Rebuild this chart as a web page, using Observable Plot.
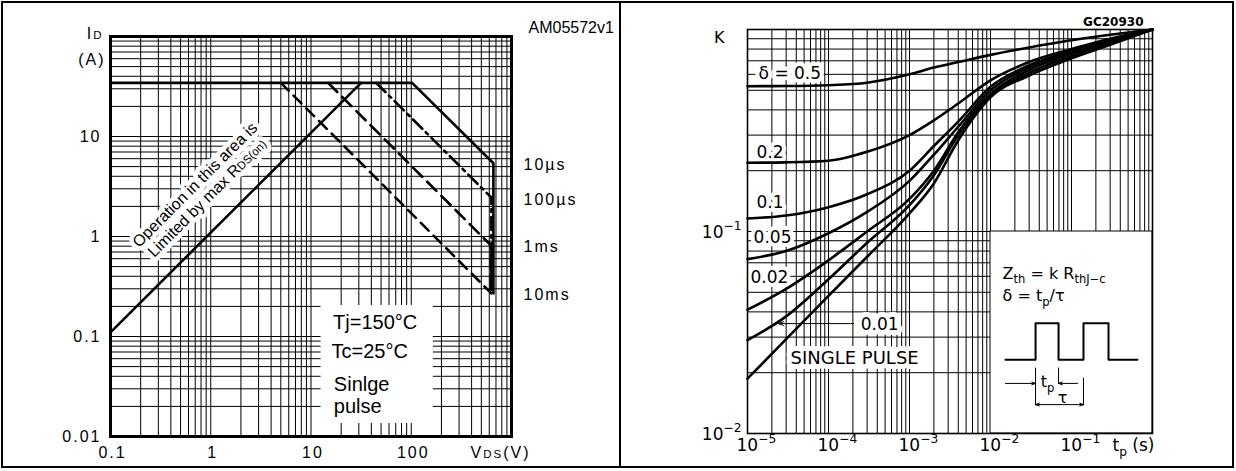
<!DOCTYPE html>
<html><head><meta charset="utf-8">
<script src="https://cdn.jsdelivr.net/npm/d3@7"></script>
<script src="https://cdn.jsdelivr.net/npm/@observablehq/plot@0.6"></script>
<style>
body{margin:0;background:#fff;}
#wrap{position:relative;width:1236px;height:471px;overflow:hidden;background:#fff;}
#left,#right{position:absolute;top:0;}
#left{left:0;} #right{left:618px;}
#border{position:absolute;left:1px;top:1px;width:1233px;height:467px;box-sizing:border-box;border:2px solid #000;pointer-events:none;}
#divider{position:absolute;left:619px;top:1px;width:2px;height:467px;background:#000;}
text{white-space:pre;}
</style></head><body>
<div id="wrap"><div id="left"></div><div id="right"></div><div id="border"></div><div id="divider"></div></div>
<script>
// ---------- LEFT: Safe operating area ----------
const xTicksL = [0.1, 1, 10, 100];
const xTickLabelsL = ["0.1", "1", "10", "100"];
const yTicksL = [0.01, 0.1, 1, 10];
const yTickLabelsL = ["0.01", "0.1", "1", "10"];

const soaNames = ["10µs", "100µs", "1ms", "10ms"];
const vds10us = [0.1, 102, 660, 660];
const id10us = [34.4, 34.4, 5.4, 0.27];
const vds100us = [44.7, 630, 630];
const id100us = [34.4, 2.45, 0.27];
const vds1ms = [14.8, 620, 620];
const id1ms = [34.4, 0.82, 0.27];
const vds10ms = [5.0, 630];
const id10ms = [34.4, 0.27];
const vdsRds = [0.1, 31.6];
const idRds = [0.11, 34.4];
const soaLabelId = [5.4, 2.45, 0.82, 0.27];

// ---------- RIGHT: Thermal impedance ----------
const xTicksR = [1e-5, 1e-4, 1e-3, 1e-2, 1e-1];
const xTickLabelsR = ["10^{−5}", "10^{−4}", "10^{−3}", "10^{−2}", "10^{−1}"];
const yTicksR = [0.01, 0.1];
const yTickLabelsR = ["10^{−2}", "10^{−1}"];

const tp = [1e-5, 3e-5, 1e-4, 3e-4, 1e-3, 2e-3, 4e-3, 1e-2, 3e-2, 1e-1, 3e-1, 1];
const k05 = [0.524, 0.525, 0.53, 0.545, 0.60, 0.648, 0.69, 0.749, 0.815, 0.885, 0.942, 1];
const k02 = [0.219, 0.22, 0.224, 0.248, 0.30, 0.355, 0.43, 0.56, 0.69, 0.80, 0.90, 1];
const k01 = [0.116, 0.12, 0.132, 0.153, 0.20, 0.265, 0.35, 0.52, 0.665, 0.785, 0.89, 1];
const k005 = [0.073, 0.08, 0.098, 0.125, 0.178, 0.24, 0.33, 0.50, 0.65, 0.775, 0.885, 1];
const k002 = [0.041, 0.052, 0.072, 0.10, 0.145, 0.20, 0.31, 0.48, 0.63, 0.76, 0.875, 1];
const k001 = [0.029, 0.038, 0.058, 0.088, 0.135, 0.19, 0.30, 0.47, 0.61, 0.74, 0.86, 1];
const kSingle = [0.0187, 0.0293, 0.048, 0.075, 0.123, 0.173, 0.283, 0.462, 0.592, 0.72, 0.84, 1];
const deltaNames = ["0.5", "0.2", "0.1", "0.05", "0.02", "0.01", "single"];

// pulse sketch (in chart units)
const pulseT = [0.0153, 0.036, 0.036, 0.0692, 0.0692, 0.1406, 0.1406, 0.2864, 0.2864, 0.653];
const pulseK = [0.0232, 0.0232, 0.0351, 0.0351, 0.0232, 0.0232, 0.0351, 0.0351, 0.0232, 0.0232];

function logGrid(lo, hi) {
  const out = [];
  for (let d = lo; d < hi * 0.999; d *= 10) for (let k = 1; k < 10; k++) out.push(+(k * d).toPrecision(6));
  out.push(hi);
  return out;
}
const note = (str, x, y, opts) => Plot.text([str], {x: () => x, y: () => y, text: d => d, ...opts});
// white knock-out behind a label, drawn as its own mark, then the label itself
const haloNote = (str, x, y, opts, w) => [
  note(str, x, y, {...opts, fill: "white", stroke: "white", strokeWidth: w, strokeLinejoin: "round"}),
  note(str, x, y, {...opts, fill: "#000"})
];

const LF = "'Liberation Sans', Arial, Helvetica, sans-serif";
const RF = "'DejaVu Sans', sans-serif";

// ---- left plot ----
const soaSeries = [
  {v: vds10us, i: id10us, dash: null},
  {v: vds100us, i: id100us, dash: "13,5,3,5"},
  {v: vds1ms, i: id1ms, dash: "13,7"},
  {v: vds10ms, i: id10ms, dash: "11,7"}
];
const soaLineMarks = soaSeries.map(s => Plot.line(s.v.map((v, j) => ({v, i: s.i[j]})),
  {x: "v", y: "i", stroke: "#000", strokeWidth: 2.6, strokeDasharray: s.dash || undefined}));

const rotNote = {rotate: -45, fontSize: 16, lineAnchor: "bottom"};

const left = Plot.plot({
  width: 618, height: 471,
  marginLeft: 110, marginRight: 107, marginTop: 36, marginBottom: 35,
  x: {type: "log", domain: [0.1, 1000], axis: null},
  y: {type: "log", domain: [0.01, 100], axis: null},
  style: {fontFamily: LF, fontSize: "16px", background: "transparent", overflow: "visible", color: "#000"},
  marks: [
    Plot.ruleX(logGrid(0.1, 1000), {stroke: "#000", strokeWidth: 1}),
    Plot.ruleY(logGrid(0.01, 100), {stroke: "#000", strokeWidth: 1}),
    Plot.rect([0], {x1: () => 12.6, x2: () => 166, y1: () => 0.0135, y2: () => 0.204, fill: "white"}),
    ...haloNote("Operation in this area is", 0.759, 3.02, rotNote, 9),
    ...haloNote("Limited by max R~{DS(on)}", 1.0, 2.24, rotNote, 9),
    Plot.line(vdsRds.map((v, j) => ({v, i: idRds[j]})), {x: "v", y: "i", stroke: "#000", strokeWidth: 2.6}),
    ...soaLineMarks,
    Plot.text(soaNames, {x: () => 1000, y: (d, j) => soaLabelId[j], text: d => d, textAnchor: "start", dx: 12, dy: 2, fontSize: 16}),
    note("Tj=150°C", 16.6, 0.1175, {textAnchor: "start", lineAnchor: "bottom", fontSize: 20}),
    note("Tc=25°C", 16.0, 0.0603, {textAnchor: "start", lineAnchor: "bottom", fontSize: 20}),
    note("Sinlge", 16.9, 0.0288, {textAnchor: "start", lineAnchor: "bottom", fontSize: 20}),
    note("pulse", 16.9, 0.0172, {textAnchor: "start", lineAnchor: "bottom", fontSize: 20}),
    Plot.text(xTicksL, {x: d => d, y: () => 0.01, text: (d, j) => xTickLabelsL[j], lineAnchor: "bottom", dy: 21, dx: 2, fontSize: 16}),
    Plot.text(yTicksL, {x: () => 0.1, y: d => d, text: (d, j) => yTickLabelsL[j], textAnchor: "end", dx: -9, fontSize: 16}),
    note("V~{DS}(V)", 1000, 0.01, {textAnchor: "end", lineAnchor: "bottom", dx: 19, dy: 21, fontSize: 16}),
    note("I~{D}", 0.1, 100, {textAnchor: "end", lineAnchor: "bottom", dx: -7, dy: 2, fontSize: 16}),
    note("(A)", 0.1, 100, {textAnchor: "end", lineAnchor: "bottom", dx: -5, dy: 28, fontSize: 16}),
    note("AM05572v1", 1000, 100, {textAnchor: "start", lineAnchor: "bottom", dx: 17, dy: -4, fontSize: 16}),
    Plot.frame({strokeWidth: 3})
  ]
});

// ---- right plot ----
const kSeries = [k05, k02, k01, k005, k002, k001, kSingle];
const zthRows = kSeries.flatMap((ks, j) => ks.map((k, i) => ({tp: tp[i], k, s: deltaNames[j]})));
const lab = {textAnchor: "start", lineAnchor: "bottom", fontSize: 17};

const right = Plot.plot({
  width: 618, height: 471,
  marginLeft: 129, marginRight: 84, marginTop: 29, marginBottom: 38,
  x: {type: "log", domain: [1e-5, 1], axis: null},
  y: {type: "log", domain: [0.01, 1], axis: null},
  style: {fontFamily: RF, fontSize: "17px", background: "transparent", overflow: "visible", color: "#000"},
  marks: [
    Plot.ruleX(logGrid(1e-5, 1), {stroke: "#000", strokeWidth: 1}),
    Plot.ruleY(logGrid(0.01, 1), {stroke: "#000", strokeWidth: 1}),
    Plot.rect([0], {x1: () => 1e-2, x2: () => 1, y1: () => 0.01, y2: () => 0.1, fill: "white", stroke: "#000", strokeWidth: 1}),
    ...haloNote("δ = 0.5", 1.37e-5, 0.572, lab, 8),
    ...haloNote("0.2", 1.29e-5, 0.23, lab, 8),
    ...haloNote("0.1", 1.29e-5, 0.131, lab, 8),
    ...haloNote("0.05", 1.19e-5, 0.0881, lab, 8),
    ...haloNote("0.02", 1.09e-5, 0.0559, lab, 8),
    ...haloNote("0.01", 2.5e-4, 0.0324, lab, 10),
    ...haloNote("SINGLE PULSE", 3.4e-5, 0.022, {...lab, fontSize: 18}, 10),
    Plot.arrow([0], {x1: () => 2.04e-4, y1: () => 0.035, x2: () => 2.41e-5, y2: () => 0.035, stroke: "#000", strokeWidth: 1, headLength: 8, headAngle: 40}),
    Plot.line(zthRows, {x: "tp", y: "k", z: "s", curve: "monotone-x", stroke: "#000", strokeWidth: 2.6}),
    // annotation box contents
    note("Z_{th} = k R_{thJ−c}", 0.0141, 0.0585, {textAnchor: "start", lineAnchor: "bottom", fontSize: 16}),
    note("δ = t_{p}/τ", 0.0141, 0.0454, {textAnchor: "start", lineAnchor: "bottom", fontSize: 16}),
    Plot.line(pulseT.map((t, i) => ({t, k: pulseK[i]})), {x: "t", y: "k", stroke: "#000", strokeWidth: 2}),
    Plot.link([[0.036, 0.0212, 0.0138], [0.0692, 0.0212, 0.0177], [0.1406, 0.0189, 0.0138]], {x1: d => d[0], x2: d => d[0], y1: d => d[1], y2: d => d[2], stroke: "#000", strokeWidth: 1}),
    Plot.arrow([[0.0153, 0.036], [0.1186, 0.0692], [0.0711, 0.036], [0.0711, 0.1406]], {x1: d => d[0], x2: d => d[1], y1: (d, i) => i < 2 ? 0.0177 : 0.0139, y2: (d, i) => i < 2 ? 0.0177 : 0.0139, stroke: "#000", strokeWidth: 1, headLength: 6, headAngle: 40}),
    note("t_{p}", 0.0416, 0.0169, {textAnchor: "start", lineAnchor: "bottom", fontSize: 16}),
    note("τ", 0.0676, 0.0142, {textAnchor: "start", lineAnchor: "bottom", fontSize: 16}),
    // axes text
    Plot.text(xTicksR, {x: d => d, y: () => 0.01, text: (d, j) => xTickLabelsR[j], textAnchor: "start", lineAnchor: "bottom", dx: -11, dy: 17, fontSize: 17}),
    Plot.text(yTicksR, {x: () => 1e-5, y: d => d, text: (d, j) => yTickLabelsR[j], textAnchor: "end", lineAnchor: "bottom", dx: -6, dy: 6, fontSize: 17}),
    note("t_{p} (s)", 1, 0.01, {textAnchor: "start", lineAnchor: "bottom", dx: -40, dy: 17, fontSize: 17}),
    note("K", 1e-5, 1, {textAnchor: "end", lineAnchor: "bottom", dx: -23, dy: 13, fontSize: 16}),
    note("GC20930", 1, 1, {textAnchor: "end", lineAnchor: "bottom", dx: -9, dy: -4, fontSize: 12, fontWeight: "bold"}),
    Plot.frame({strokeWidth: 1.6})
  ]
});

document.getElementById("left").appendChild(left);
document.getElementById("right").appendChild(right);

// rich text: _{sub}, ^{sup}, ~{small on baseline}
function richify(svg) {
  svg.querySelectorAll("text").forEach(t => {
    if (t.querySelector("tspan")) return;
    const s = t.textContent;
    if (!/[_^~]\{/.test(s)) return;
    const fs = parseFloat(getComputedStyle(t).fontSize) || 16;
    while (t.firstChild) t.removeChild(t.firstChild);
    const re = /([_^~])\{([^}]*)\}/g;
    let last = 0, m, shift = 0;
    const add = (txt, kind) => {
      if (!txt) return;
      const ts = document.createElementNS("http://www.w3.org/2000/svg", "tspan");
      let target = 0, size = null;
      if (kind === "_") { target = 0.3 * fs; size = 0.72 * fs; }
      else if (kind === "^") { target = -0.42 * fs; size = 0.72 * fs; }
      else if (kind === "~") { size = 0.72 * fs; }
      const dy = target - shift;
      if (dy) ts.setAttribute("dy", dy.toFixed(2));
      shift = target;
      if (size) ts.setAttribute("font-size", size.toFixed(2));
      ts.textContent = txt;
      t.appendChild(ts);
    };
    while ((m = re.exec(s))) { add(s.slice(last, m.index), null); add(m[2], m[1]); last = re.lastIndex; }
    add(s.slice(last), null);
  });
}
// horizontally wide lettering of the left chart's axis/series labels
const spaced = new Set(["0.1", "1", "10", "100", "0.01", "10µs", "100µs", "1ms", "10ms", "V~{DS}(V)", "I~{D}", "(A)"]);
left.querySelectorAll("text").forEach(t => { if (spaced.has(t.textContent)) t.style.letterSpacing = "2px"; });
richify(left);
richify(right);
</script></body></html>
